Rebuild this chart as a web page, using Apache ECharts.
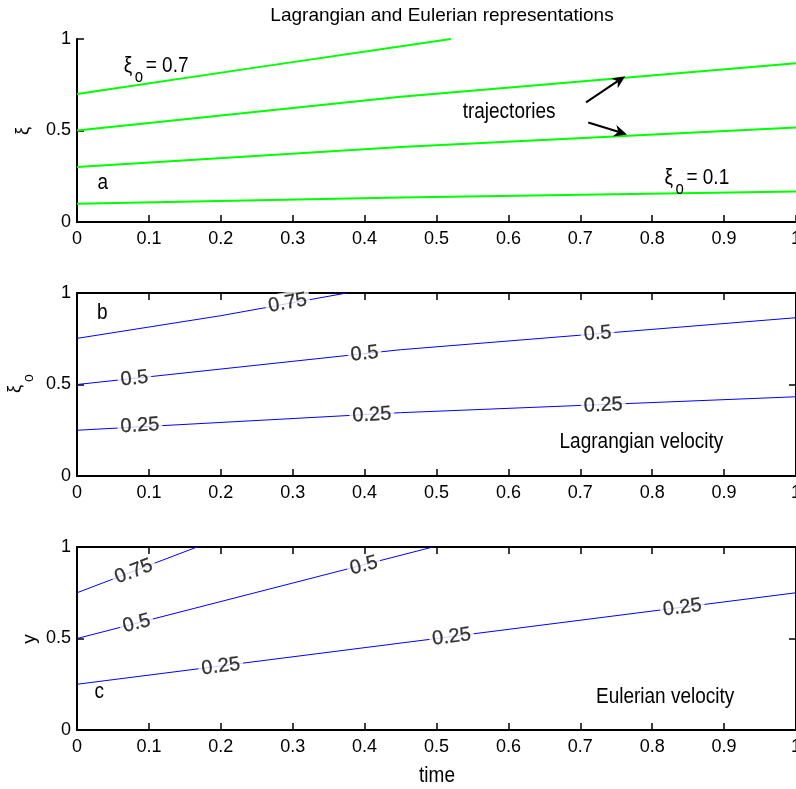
<!DOCTYPE html>
<html><head><meta charset="utf-8">
<script src="https://cdn.jsdelivr.net/npm/echarts@6/dist/echarts.min.js"></script>
<style>html,body{margin:0;padding:0;background:#fff}#c{width:796px;height:789px}</style>
</head><body><div id="c"></div>
<script>
const FONT = '"Liberation Sans", Arial, Helvetica, sans-serif';

// ---- tick labels ----
const xTickLabels = ['0','0.1','0.2','0.3','0.4','0.5','0.6','0.7','0.8','0.9','1'];
const yTickLabels = ['0','0.5','1'];

// ---- panel a: trajectories  [time, xi] ----
const trajXi07 = [[0,0.70],[0.25,0.845],[0.52,1.0]];
const trajXi05 = [[0,0.50],[0.45,0.685],[1,0.867]];
const trajXi03 = [[0,0.30],[0.45,0.41],[1,0.516]];
const trajXi01 = [[0,0.10],[0.45,0.134],[1,0.166]];

// ---- panel b: Lagrangian velocity contours [time, xi_o] ----
const lagC075 = [[0,0.752],[0.2,0.876],[0.375,1.0]];
const lagC050 = [[0,0.50],[0.45,0.69],[1,0.865]];
const lagC025 = [[0,0.25],[0.45,0.346],[1,0.433]];
const lagLabels = [[0.293,0.945,'0.75'],[0.08,0.532,'0.5'],[0.40,0.668,'0.5'],[0.724,0.778,'0.5'],
                   [0.0875,0.275,'0.25'],[0.41,0.333,'0.25'],[0.732,0.386,'0.25']];

// ---- panel c: Eulerian velocity contours [time, y] ----
const eulC075 = [[0,0.75],[0.167,1.0]];
const eulC050 = [[0,0.5],[0.495,1.0]];
const eulC025 = [[0,0.25],[1,0.75]];
const eulLabels = [[0.079,0.866,'0.75'],[0.083,0.582,'0.5'],[0.399,0.898,'0.5'],
                   [0.2,0.347,'0.25'],[0.521,0.509,'0.25'],[0.842,0.669,'0.25']];

// ---- annotations (data coordinates of their panel) ----
const arrowsA = [ [[0.708,0.654],[0.7625,0.797]], [[0.711,0.544],[0.765,0.478]] ];

const GL = 77, GW = 719, GH = 183;
const gridTops = [39, 293, 547];
const SY = 1.18; // vertical text stretch seen in the reference

const chart = echarts.init(document.getElementById('c'), null, {renderer:'canvas'});

function xAx(g, pos, labels) {
  return {
    type:'value', gridIndex:g, position:pos, min:0, max:1, interval:0.1,
    axisLine:{show:true, onZero:false, lineStyle:{color:'#000', width:2}},
    axisTick:{show:true, inside:true, length:7, lineStyle:{color:'#000', width:1.5}},
    axisLabel:{show:labels, color:'#000', fontSize:18, fontFamily:FONT, margin:8,
      showMaxLabel:true, showMinLabel:true, hideOverlap:false,
      formatter:(v) => xTickLabels[Math.round(v*10)]},
    splitLine:{show:false}
  };
}
function yAx(g, pos, labels) {
  return {
    type:'value', gridIndex:g, position:pos, min:0, max:1, interval:0.5,
    axisLine:{show:true, onZero:false, lineStyle:{color:'#000', width:2}},
    axisTick:{show:true, inside:true, length:7, lineStyle:{color:'#000', width:1.5}},
    axisLabel:{show:labels, color:'#000', fontSize:18, fontFamily:FONT, margin:6,
      formatter:(v) => yTickLabels[Math.round(v*2)]},
    splitLine:{show:false}
  };
}

const xAxes = [xAx(0,'bottom',true), xAx(1,'bottom',true), xAx(1,'top',false), xAx(2,'bottom',true), xAx(2,'top',false)];
const yAxes = [yAx(0,'left',true), yAx(1,'left',true), yAx(1,'right',false), yAx(2,'left',true), yAx(2,'right',false)];

function lineS(data, xi, yi, color, width) {
  return {type:'line', xAxisIndex:xi, yAxisIndex:yi, data:data, symbol:'none', silent:true,
    lineStyle:{color:color, width:width}, z:2, clip:true};
}

const lagLines = {'0.75':lagC075, '0.5':lagC050, '0.25':lagC025};
const eulLines = {'0.75':eulC075, '0.5':eulC050, '0.25':eulC025};

function labelS(labels, xi, yi, rots) {
  return {type:'scatter', xAxisIndex:xi, yAxisIndex:yi, symbolSize:1, silent:true, z:5,
    itemStyle:{color:'rgba(255,255,255,0)'},
    data: labels.map((d, i) => ({value:[d[0], d[1]], name:d[2], label:{rotate: rots ? rots[i] : 0}})),
    label:{show:true, position:'inside', formatter:'{b}', color:'#000', fontSize:20, fontFamily:FONT,
      textBorderColor:'#000', textBorderWidth:0.25, backgroundColor:'#fff', padding:[1,3]}
  };
}

function buildSeries(lagRots, eulRots) {
  return [
    lineS(trajXi07, 0, 0, '#00ff00', 2),
    lineS(trajXi05, 0, 0, '#00ff00', 2),
    lineS(trajXi03, 0, 0, '#00ff00', 2),
    lineS(trajXi01, 0, 0, '#00ff00', 2),
    lineS(lagC075, 1, 1, '#0000ff', 1),
    lineS(lagC050, 1, 1, '#0000ff', 1),
    lineS(lagC025, 1, 1, '#0000ff', 1),
    labelS(lagLabels, 1, 1, lagRots),
    lineS(eulC075, 3, 3, '#0000ff', 1),
    lineS(eulC050, 3, 3, '#0000ff', 1),
    lineS(eulC025, 3, 3, '#0000ff', 1),
    labelS(eulLabels, 3, 3, eulRots)
  ];
}

const option = {
  animation:false,
  backgroundColor:'#fff',
  title:{text:'Lagrangian and Eulerian representations', left:437, top:1, textAlign:'center',
    textStyle:{fontSize:19, fontWeight:'normal', color:'#000', fontFamily:FONT}},
  grid: gridTops.map(t => ({left:GL, top:t, width:GW, height:GH, containLabel:false, outerBoundsMode:'none'})),
  xAxis: xAxes,
  yAxis: yAxes,
  series: buildSeries(null, null)
};
chart.setOption(option);

// ---- second pass: label rotations along contours & annotations ----
function rotFor(labels, lines, g) {
  return labels.map(d => {
    const L = lines[d[2]];
    let k = 0;
    while (k < L.length - 2 && d[0] > L[k+1][0]) k++;
    const p1 = chart.convertToPixel({gridIndex:g}, L[k]);
    const p2 = chart.convertToPixel({gridIndex:g}, L[k+1]);
    return Math.atan2(-(p2[1]-p1[1]), p2[0]-p1[0]) * 180 / Math.PI;
  });
}
const lagRots = rotFor(lagLabels, lagLines, 1);
const eulRots = rotFor(eulLabels, eulLines, 2);

const px = (g, p) => chart.convertToPixel({gridIndex:g}, p);
const graphics = [];
function txt(x, y, s, size, align, valign, rot, sy) {
  graphics.push({type:'text', x:x, y:y, rotation: rot || 0, scaleY: sy || 1, z:10,
    style:{text:s, fill:'#000', font: size + 'px ' + FONT, textAlign:align || 'center', textVerticalAlign: valign || 'middle'}});
}
// xi_o labels (baseline-anchored)
function xiLabel(g, p, val) {
  const q = px(g, p);
  txt(q[0], q[1], 'ξ', 19, 'left', 'bottom', 0, SY);
  txt(q[0] + 11, q[1] + 9, 'o', 15, 'left', 'bottom', 0, SY);
  txt(q[0] + 22, q[1], '= ' + val, 19, 'left', 'bottom', 0, SY);
}
xiLabel(0, [0.065, 0.79], '0.7');
xiLabel(0, [0.817, 0.18], '0.1');
let q = px(0, [0.601, 0.60]); txt(q[0], q[1], 'trajectories', 19, 'center', 'middle', 0, SY);
q = px(0, [0.036, 0.214]); txt(q[0], q[1], 'a', 19, 'center', 'middle', 0, SY);
q = px(1, [0.035, 0.89]); txt(q[0], q[1], 'b', 19, 'center', 'middle', 0, SY);
q = px(1, [0.785, 0.186]); txt(q[0], q[1], 'Lagrangian velocity', 19, 'center', 'middle', 0, SY);
q = px(2, [0.031, 0.208]); txt(q[0], q[1], 'c', 19, 'center', 'middle', 0, SY);
q = px(2, [0.818, 0.18]); txt(q[0], q[1], 'Eulerian velocity', 19, 'center', 'middle', 0, SY);

// axis names
txt(437, 776, 'time', 19, 'center', 'middle', 0, SY);
txt(23, 131, 'ξ', 18, 'center', 'middle', Math.PI/2);
txt(30, 639, 'y', 19, 'center', 'middle', Math.PI/2);
txt(15, 389, 'ξ', 18, 'center', 'middle', Math.PI/2);
txt(29, 378, 'o', 14, 'center', 'middle', Math.PI/2);

// arrows
arrowsA.forEach(a => {
  const s = px(0, a[0]), e = px(0, a[1]);
  const ang = Math.atan2(e[1]-s[1], e[0]-s[0]);
  const hl = 13, hw = 6;
  const bx = e[0] - hl*Math.cos(ang), by = e[1] - hl*Math.sin(ang);
  const nx = -Math.sin(ang), ny = Math.cos(ang);
  const nxp = e[0] - hl*0.7*Math.cos(ang), nyp = e[1] - hl*0.7*Math.sin(ang);
  graphics.push({type:'line', z:10, shape:{x1:s[0], y1:s[1], x2:nxp, y2:nyp}, style:{stroke:'#000', lineWidth:2}});
  graphics.push({type:'polygon', z:10, shape:{points:[[e[0],e[1]],[bx+hw*nx, by+hw*ny],[nxp,nyp],[bx-hw*nx, by-hw*ny]]},
    style:{fill:'#000'}});
});

chart.setOption({series: buildSeries(lagRots, eulRots), graphic: graphics});
</script>
</body></html>
